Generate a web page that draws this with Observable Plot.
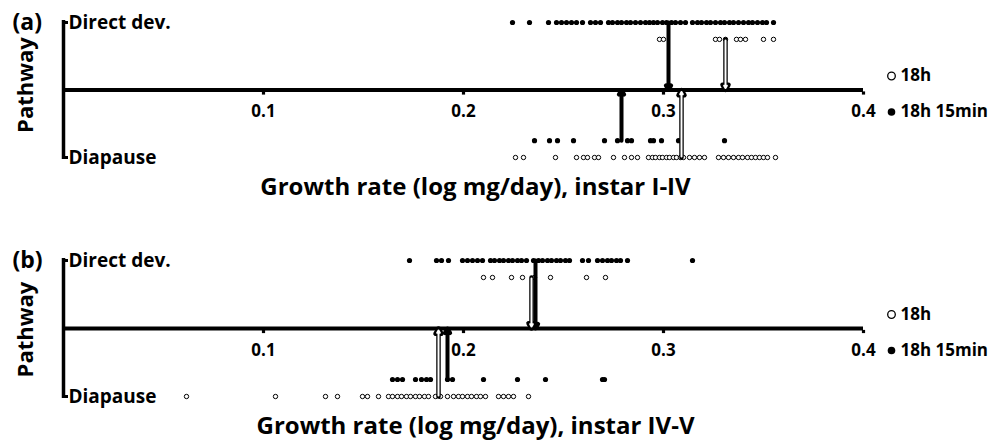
<!DOCTYPE html>
<html><head><meta charset="utf-8">
<script src="https://cdn.jsdelivr.net/npm/d3@7"></script>
<script src="https://cdn.jsdelivr.net/npm/@observablehq/plot@0.6"></script>
<style>
body{margin:0;background:#fff;}
#chart svg{display:block;}
</style></head><body><div id="chart"></div>
<script>
// ---- data (growth rate, log mg/day) ----
const tickValues = [0.1, 0.2, 0.3, 0.4];
const pathwayLabels = ["Direct dev.", "Diapause"];
const legendLabels = ["18h", "18h 15min"];
const panelTags = ["(a)", "(b)"];
const xLabels = ["Growth rate (log mg/day), instar I-IV", "Growth rate (log mg/day), instar IV-V"];

// Panel (a): instar I-IV
const aDirect15 = [0.2245,0.233,0.2425,0.2465,0.249,0.2515,0.254,0.2565,0.2595,0.2635,0.266,0.2685,0.2725,0.2745,0.277,0.279,0.2815,0.2835,0.286,0.2885,0.291,0.293,0.295,0.297,0.2995,0.3015,0.304,0.306,0.3085,0.311,0.3145,0.317,0.319,0.3215,0.3235,0.326,0.3285,0.3305,0.333,0.335,0.3375,0.34,0.3425,0.3445,0.347,0.3495,0.3515,0.355];
const aDirect18 = [0.298,0.300,0.326,0.328,0.331,0.3365,0.3385,0.341,0.35,0.355];
const aDiapause15 = [0.2355,0.243,0.247,0.255,0.2705,0.277,0.282,0.284,0.2935,0.295,0.299,0.3075,0.3305];
const aDiapause18 = [0.226,0.23,0.246,0.2565,0.26,0.262,0.2655,0.2675,0.275,0.2805,0.284,0.287,0.2925,0.2945,0.296,0.298,0.2995,0.3015,0.303,0.305,0.3065,0.3085,0.31,0.313,0.3155,0.318,0.3205,0.3275,0.33,0.3325,0.335,0.3375,0.3395,0.342,0.344,0.346,0.348,0.35,0.352,0.356];
const aMeans = {direct15: 0.3025, direct18: 0.331, diapause15: 0.279, diapause18: 0.309};

// Panel (b): instar IV-V
const bDirect15 = [0.173,0.1865,0.189,0.1925,0.1995,0.202,0.2045,0.207,0.2095,0.2135,0.2155,0.218,0.22,0.2225,0.2245,0.227,0.229,0.2315,0.235,0.2375,0.2395,0.242,0.244,0.2465,0.2485,0.251,0.253,0.2595,0.2625,0.267,0.2695,0.272,0.274,0.2765,0.2785,0.282,0.3145];
const bDirect18 = [0.21,0.2145,0.224,0.2295,0.2355,0.2435,0.2615,0.271];
const bDiapause15 = [0.1645,0.167,0.1695,0.176,0.179,0.1815,0.1835,0.192,0.1945,0.21,0.227,0.241,0.2695,0.2705];
const bDiapause18 = [0.0615,0.106,0.131,0.137,0.1495,0.152,0.1575,0.1625,0.1645,0.167,0.169,0.1715,0.1735,0.176,0.178,0.1805,0.1825,0.186,0.1885,0.192,0.195,0.1975,0.1995,0.202,0.204,0.2065,0.2085,0.211,0.2175,0.22,0.2225,0.225,0.2325];
const bMeans = {direct15: 0.236, direct18: 0.234, diapause15: 0.192, diapause18: 0.1875};

// ---- drawing ----
const FONT = "'Open Sans', sans-serif";
const ROW = {direct15: 1, direct18: 0.75, diapause15: -0.75, diapause18: -1};

function panel(i, d15, d18, p15, p18, means, marginTop, marginBottom, pathwayDy) {
  const filledArrows = [
    {x: means.direct15, y: ROW.direct15},
    {x: means.diapause15, y: ROW.diapause15}
  ];
  const openArrows = [
    {x: means.direct18, y: ROW.direct18},
    {x: means.diapause18, y: ROW.diapause18}
  ];
  const bold = {fontWeight: "bold", fill: "black"};
  return Plot.plot({
    width: 989, height: 221,
    marginLeft: 63, marginRight: 126, marginTop, marginBottom,
    x: {domain: [0, 0.4], axis: null},
    y: {domain: [-1, 1], axis: null},
    style: {fontFamily: FONT, background: "white", color: "black", overflow: "visible"},
    marks: [
      // axes
      Plot.ruleX([0], {y1: -1.03, y2: 1.03, stroke: "black", strokeWidth: 3.5}),
      Plot.ruleY([ROW.direct15, ROW.diapause18], {x1: 0, x2: 0.0025, stroke: "black", strokeWidth: 3}),
      Plot.ruleY([0], {x1: 0, x2: 0.4, stroke: "black", strokeWidth: 4}),
      Plot.dot(tickValues, {x: d => d, y: () => 0, dy: 3, symbol: "square", r: 1.8, fill: "black"}),
      Plot.text(tickValues, {x: d => d, y: () => 0, dy: 22, text: d => d.toFixed(1), fontSize: 17, ...bold}),
      // category labels
      Plot.text(pathwayLabels, {x: () => 0, y: (d, j) => j === 0 ? ROW.direct15 : ROW.diapause18, dx: 5, textAnchor: "start", fontSize: 19, ...bold}),
      Plot.text(["Pathway"], {x: () => 0, y: () => 0, dx: -38, dy: pathwayDy, rotate: -90, fontSize: 22, ...bold}),
      Plot.text([panelTags[i]], {x: () => 0, y: () => ROW.direct15, dx: -51, textAnchor: "start", fontSize: 23, ...bold}),
      Plot.text([xLabels[i]], {x: () => 0.2, y: () => ROW.diapause18, dx: 12, dy: 30, fontSize: 24, ...bold}),
      // data points
      Plot.dot(d15, {x: d => d, y: () => ROW.direct15, r: 2.6, fill: "black"}),
      Plot.dot(d18, {x: d => d, y: () => ROW.direct18, r: 2.2, fill: "white", stroke: "black", strokeWidth: 1}),
      Plot.dot(p15, {x: d => d, y: () => ROW.diapause15, r: 2.6, fill: "black"}),
      Plot.dot(p18, {x: d => d, y: () => ROW.diapause18, r: 2.2, fill: "white", stroke: "black", strokeWidth: 1}),
      // mean arrows
      Plot.arrow(filledArrows, {x1: "x", x2: "x", y1: "y", y2: () => 0, stroke: "black", strokeWidth: 4, headLength: 2, insetEnd: 0}),
      Plot.arrow(openArrows, {x1: "x", x2: "x", y1: "y", y2: () => 0, stroke: "black", strokeWidth: 4.5, headLength: 2, insetEnd: 0}),
      Plot.arrow(openArrows, {x1: "x", x2: "x", y1: "y", y2: () => 0, stroke: "white", strokeWidth: 2, headLength: 2, insetStart: 1, insetEnd: 2}),
      // legend
      Plot.dot([legendLabels[0]], {x: () => 0.4, y: () => 0, dx: 28, dy: -14, r: 3.8, fill: "white", stroke: "black", strokeWidth: 1.3}),
      Plot.text([legendLabels[0]], {x: () => 0.4, y: () => 0, dx: 37, dy: -14, textAnchor: "start", fontSize: 17, ...bold}),
      Plot.dot([legendLabels[1]], {x: () => 0.4, y: () => 0, dx: 28, dy: 22, r: 3.8, fill: "black"}),
      Plot.text([legendLabels[1]], {x: () => 0.4, y: () => 0, dx: 37, dy: 22, textAnchor: "start", fontSize: 17, ...bold})
    ]
  });
}

const root = document.getElementById("chart");
root.append(panel(0, aDirect15, aDirect18, aDiapause15, aDiapause18, aMeans, 22, 64, -5));
root.append(panel(1, bDirect15, bDirect18, bDiapause15, bDiapause18, bMeans, 39, 46, 1));
</script></body></html>
